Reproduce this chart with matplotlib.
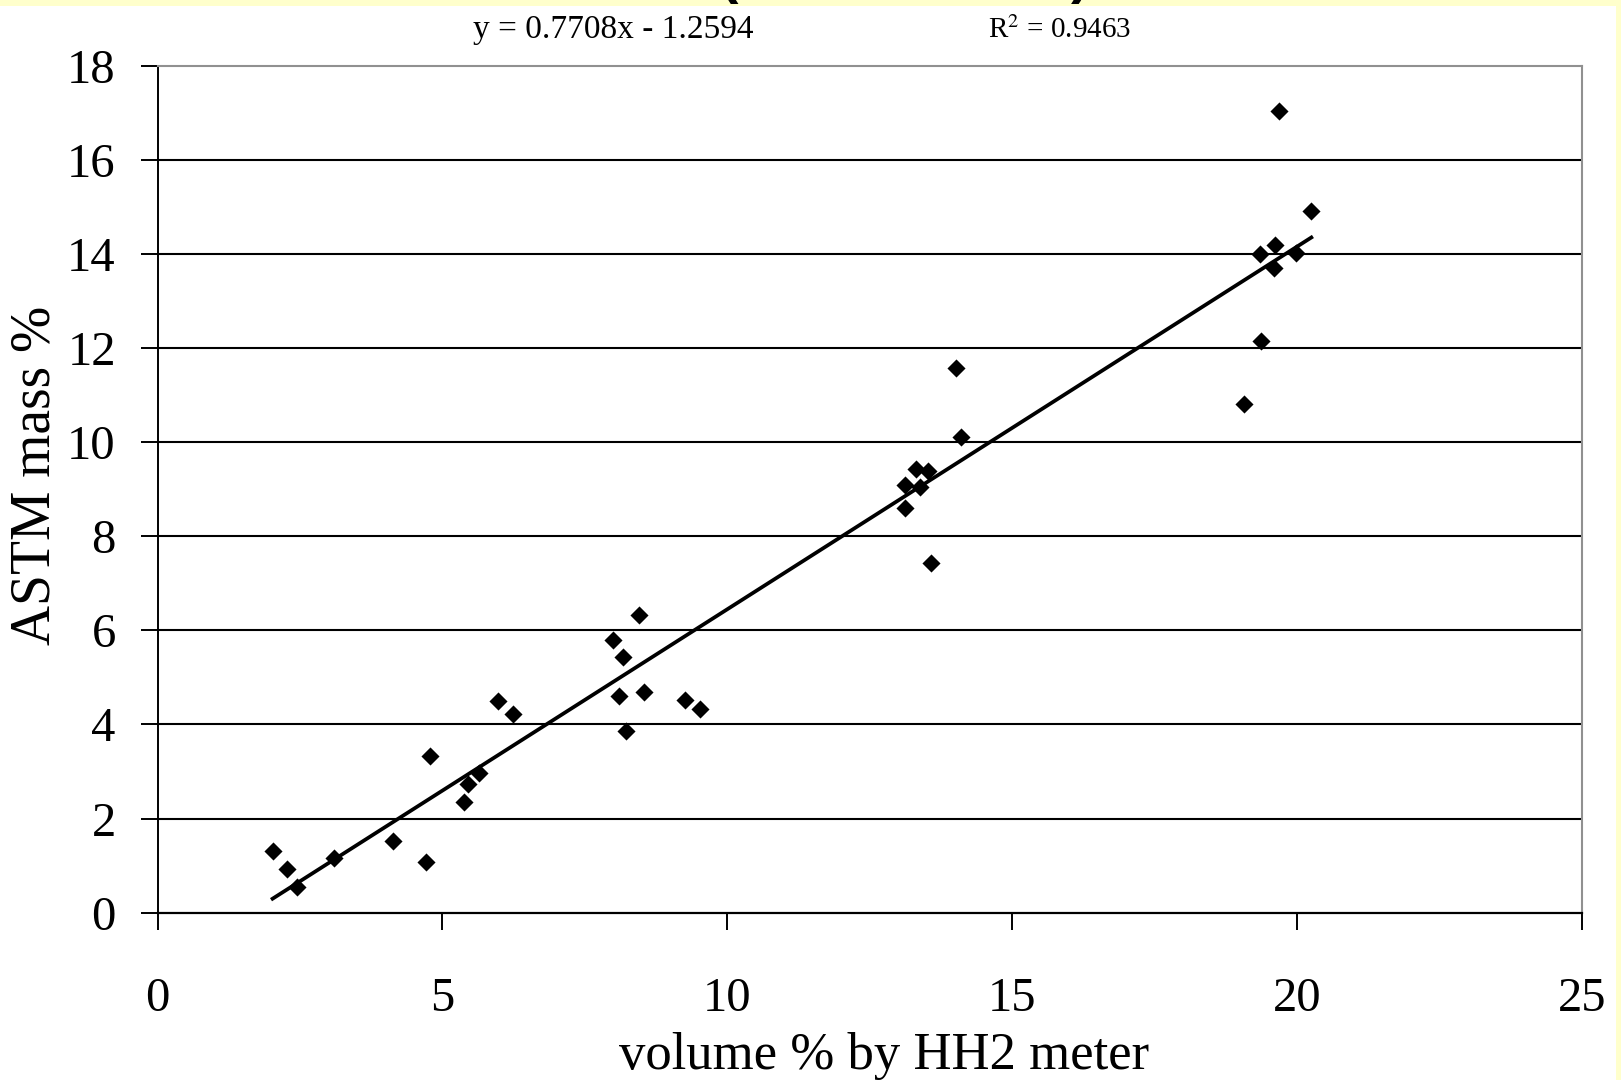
import matplotlib
matplotlib.use("Agg")
import matplotlib.pyplot as plt
import numpy as np
from matplotlib.patches import Rectangle

# HH2 meter volume % vs ASTM mass %
vol_pct = [2.02, 2.28, 2.45, 3.10, 4.13, 4.72, 4.79, 5.38, 5.45, 5.65, 5.98, 6.24,
           8.00, 8.17, 8.45, 8.10, 8.53, 8.23, 9.25, 9.52,
           13.12, 13.12, 13.32, 13.39, 13.53, 13.58, 14.01, 14.11,
           19.06, 19.36, 19.35, 19.59, 19.62, 19.69, 19.98, 20.25]
astm_mass = [1.32, 0.93, 0.55, 1.17, 1.53, 1.08, 3.33, 2.36, 2.73, 2.97, 4.49, 4.23,
             5.80, 5.43, 6.32, 4.60, 4.68, 3.86, 4.52, 4.32,
             9.08, 8.60, 9.42, 9.04, 9.38, 7.43, 11.58, 10.10,
             10.81, 12.16, 14.00, 13.71, 14.20, 17.04, 14.03, 14.92]

slope = 0.7708
intercept = -1.2594
r_squared = 0.9463

x_ticks = [0, 5, 10, 15, 20, 25]
y_ticks = [0, 2, 4, 6, 8, 10, 12, 14, 16, 18]

serif = ["Liberation Serif", "DejaVu Serif"]
yellow = "#FFFFCC"
plt.rcParams["mathtext.fontset"] = "stix"

fig = plt.figure(figsize=(16.21, 10.8), dpi=100, facecolor=yellow)
# white slide area, pale yellow strip on top and right
fig.patches.append(Rectangle((0, 0), 1616 / 1621, 1 - 6 / 1080,
                             transform=fig.transFigure, facecolor="white",
                             edgecolor="none", zorder=-10))

ax = fig.add_axes([157.5 / 1621, 1 - 912.7 / 1080, (1582 - 157.5) / 1621, (912.7 - 65.7) / 1080])
ax.set_facecolor("white")

# horizontal gridlines
for yv in y_ticks[1:-1]:
    ax.axhline(yv, color="black", lw=1.5, zorder=1)

ax.scatter(vol_pct, astm_mass, marker="D", s=85, color="black", zorder=3, linewidths=0)

# linear trendline over data range
xs = np.array([min(vol_pct), max(vol_pct)])
ax.plot(xs, slope * xs + intercept, color="black", lw=2.7, zorder=2)

ax.set_xlim(0, 25)
ax.set_ylim(0, 18)
ax.set_xticks(x_ticks)
ax.set_yticks(y_ticks)
ax.set_xticklabels([str(v) for v in x_ticks], family=serif, fontsize=35)
ax.set_yticklabels([str(v) for v in y_ticks], family=serif, fontsize=35)
ax.tick_params(axis="both", direction="out", length=12, width=1.4, color="black")
ax.tick_params(axis="x", pad=34)
ax.tick_params(axis="y", pad=18)

ax.spines["left"].set_color("black")
ax.spines["bottom"].set_color("black")
ax.spines["left"].set_linewidth(1.4)
ax.spines["bottom"].set_linewidth(1.6)
ax.spines["top"].set_color("#909090")
ax.spines["right"].set_color("#909090")
ax.spines["top"].set_linewidth(1.5)
ax.spines["right"].set_linewidth(1.5)

fig.text(36 / 1621, 1 - 475 / 1080, "ASTM mass %", rotation=90, ha="center", va="center",
         family=serif, fontsize=40)
fig.text(884 / 1621, 1 - 1056 / 1080, "volume % by HH2 meter", ha="center", va="center",
         family=serif, fontsize=38)

# trendline equation and R^2
fig.text(613 / 1621, 1 - 30 / 1080, "y = 0.7708x - 1.2594", ha="center", va="center",
         family=serif, fontsize=24)
fig.text(1060 / 1621, 1 - 30 / 1080, "R$^2$ = 0.9463", ha="center", va="center",
         family=serif, fontsize=21)

# cut-off slide title (only the bottom of the brackets shows)
fig.text(729 / 1621, 1 - 4 / 1080, "(", ha="center", va="bottom",
         family=["Liberation Sans", "DejaVu Sans"], fontweight="bold", fontsize=40)
fig.text(1080 / 1621, 1 - 4 / 1080, ")", ha="center", va="bottom",
         family=["Liberation Sans", "DejaVu Sans"], fontweight="bold", fontsize=40)

fig.savefig("out.png", dpi=100, facecolor=yellow)
